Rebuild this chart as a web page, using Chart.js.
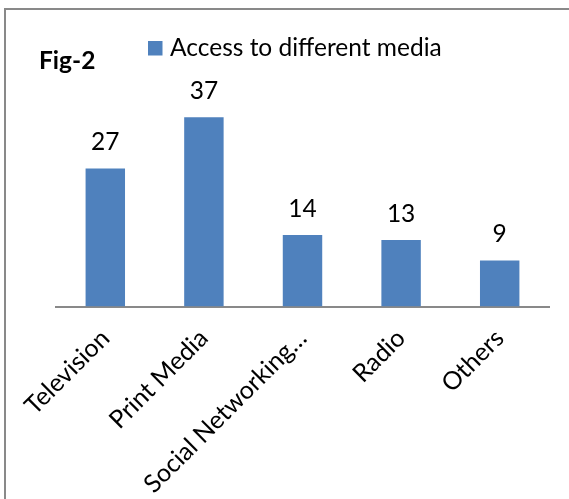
<!DOCTYPE html>
<html><head><meta charset="utf-8">
<script src="https://cdn.jsdelivr.net/npm/chart.js"></script>
<style>
html,body{margin:0;padding:0;background:#fff;}
#wrap{position:relative;width:569px;height:499px;overflow:hidden;}
#frame{position:absolute;left:4px;top:8px;width:620px;height:620px;border-top:2px solid #898989;border-left:2px solid #898989;box-sizing:border-box;pointer-events:none;}
canvas{position:absolute;left:0;top:0;}
</style></head><body>
<div id="wrap"><canvas id="c" width="569" height="499"></canvas><div id="frame"></div></div>
<script>
const categories = ['Television', 'Print Media', 'Social Networking…', 'Radio', 'Others'];
const values = [27, 37, 14, 13, 9];
const seriesName = 'Access to different media';
const figLabel = 'Fig-2';

const FONT = 'Lato, "Open Sans", sans-serif';
const FS = 24.5;

const headerPlugin = {
  id: 'header',
  afterDraw(chart) {
    const ctx = chart.ctx;
    ctx.save();
    ctx.fillStyle = '#000';
    ctx.textAlign = 'left';
    ctx.textBaseline = 'alphabetic';
    ctx.font = 'bold ' + FS + 'px ' + FONT;
    ctx.fillText(figLabel, 39, 69);
    const ds = chart.data.datasets[0];
    ctx.fillStyle = ds.backgroundColor;
    ctx.fillRect(148, 41, 14.5, 14.5);
    ctx.fillStyle = '#000';
    ctx.font = FS + 'px ' + FONT;
    ctx.fillText(ds.label, 170, 56);
    const meta = chart.getDatasetMeta(0);
    ctx.textAlign = 'center';
    meta.data.forEach((bar, i) => {
      ctx.fillText(String(ds.data[i]), bar.x, bar.y - 18);
    });
    ctx.restore();
  }
};

new Chart(document.getElementById('c'), {
  type: 'bar',
  data: {
    labels: categories,
    datasets: [{
      label: seriesName,
      data: values,
      backgroundColor: '#4F81BD',
      barPercentage: 0.4,
      categoryPercentage: 1.0
    }]
  },
  options: {
    responsive: false,
    animation: false,
    devicePixelRatio: 1,
    layout: { padding: { left: 56, right: 20, top: 102, bottom: 0 } },
    plugins: { legend: { display: false }, tooltip: { enabled: false } },
    scales: {
      y: { display: false, min: 0, max: 40 },
      x: {
        grid: { display: false },
        border: { display: true, color: '#898989', width: 2 },
        ticks: {
          color: '#000',
          font: { family: FONT, size: 25 },
          maxRotation: 45, minRotation: 45,
          padding: 9,
          autoSkip: false
        },
        afterFit(scale) { scale.height = 192.5; }
      }
    }
  },
  plugins: [headerPlugin]
});
</script>
</body></html>
